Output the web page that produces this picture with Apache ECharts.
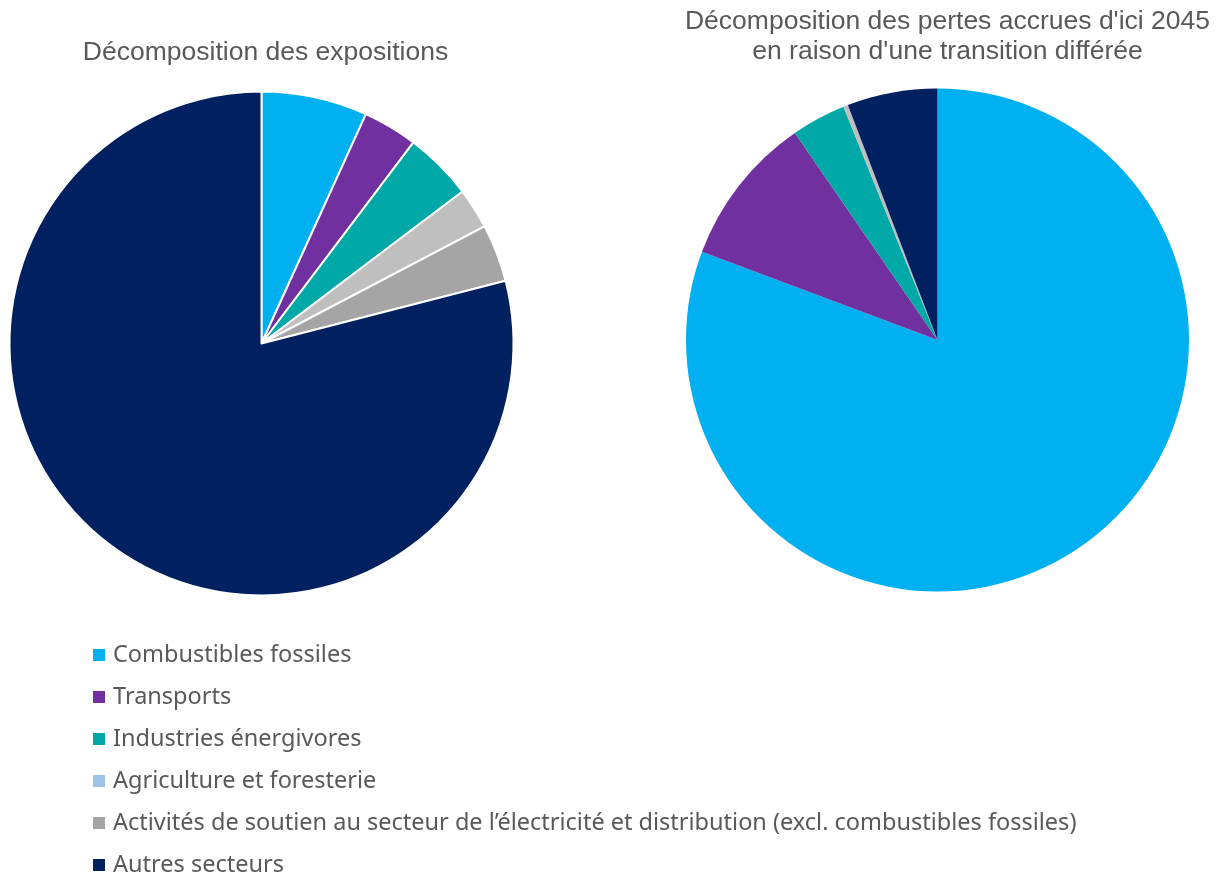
<!DOCTYPE html>
<html>
<head>
<meta charset="utf-8">
<script src="https://cdn.jsdelivr.net/npm/echarts@6/dist/echarts.min.js"></script>
<style>
  html, body { margin: 0; padding: 0; background: #ffffff; }
  #chart { width: 1217px; height: 875px; }
</style>
</head>
<body>
<div id="chart"></div>
<script>
// Sector categories (legend order)
const categories = [
  'Combustibles fossiles',
  'Transports',
  'Industries énergivores',
  'Agriculture et foresterie',
  'Activités de soutien au secteur de l\u2019électricité et distribution (excl. combustibles fossiles)',
  'Autres secteurs'
];

// Shares (%) of exposures by sector
const expositions = [6.8, 3.5, 4.4, 2.6, 3.7, 79.0];

// Shares (%) of additional losses by 2045 from a delayed transition
const pertes = [80.7, 9.7, 3.5, 0.3, 0, 5.8];

const sliceColors = ['#00B0F0', '#7030A0', '#00A9A8', '#BFBFBF', '#A5A5A5', '#002060'];
const legendColors = ['#00B0F0', '#7030A0', '#00A9A8', '#9DC3E6', '#A5A5A5', '#002060'];

const titles = [
  'Décomposition des expositions',
  'Décomposition des pertes accrues d\'ici 2045\nen raison d\'une transition différée'
];

function pieData(values) {
  return categories.map((name, i) => ({
    name: name,
    value: values[i],
    itemStyle: { color: sliceColors[i] }
  }));
}

const chart = echarts.init(document.getElementById('chart'), null, { renderer: 'canvas' });

const titleStyle = {
  fontFamily: '"Liberation Sans", Arial, sans-serif',
  fontSize: 26.5,
  fontWeight: 'normal',
  color: '#595959',
  lineHeight: 30
};

chart.setOption({
  animation: false,
  backgroundColor: '#ffffff',
  title: [
    { text: titles[0], left: 265.5, top: 38, textAlign: 'center', padding: 0, textStyle: titleStyle },
    { text: titles[1], left: 947.5, top: 7, textAlign: 'center', padding: 0, textStyle: titleStyle }
  ],
  legend: {
    orient: 'vertical',
    left: 91,
    top: 643,
    height: 300,
    padding: 0,
    itemWidth: 14,
    itemHeight: 14,
    itemGap: 18,
    icon: 'rect',
    selectedMode: false,
    data: categories.map((name, i) => ({ name: name, itemStyle: { color: legendColors[i] } })),
    textStyle: {
      fontFamily: '"Noto Sans", "Open Sans", sans-serif',
      fontSize: 23.5,
      color: '#595959',
      padding: [0, 0, 0, 2]
    }
  },
  series: [
    {
      type: 'pie',
      name: titles[0],
      center: [261.5, 343.5],
      radius: [0, 252],
      startAngle: 90,
      clockwise: true,
      avoidLabelOverlap: false,
      label: { show: false },
      labelLine: { show: false },
      emphasis: { disabled: true },
      itemStyle: { borderColor: '#ffffff', borderWidth: 2 },
      data: pieData(expositions)
    },
    {
      type: 'pie',
      name: titles[1],
      center: [937.5, 340],
      radius: [0, 251.5],
      startAngle: 90,
      clockwise: true,
      avoidLabelOverlap: false,
      label: { show: false },
      labelLine: { show: false },
      emphasis: { disabled: true },
      itemStyle: { borderWidth: 0 },
      data: pieData(pertes)
    }
  ]
});
</script>
</body>
</html>
